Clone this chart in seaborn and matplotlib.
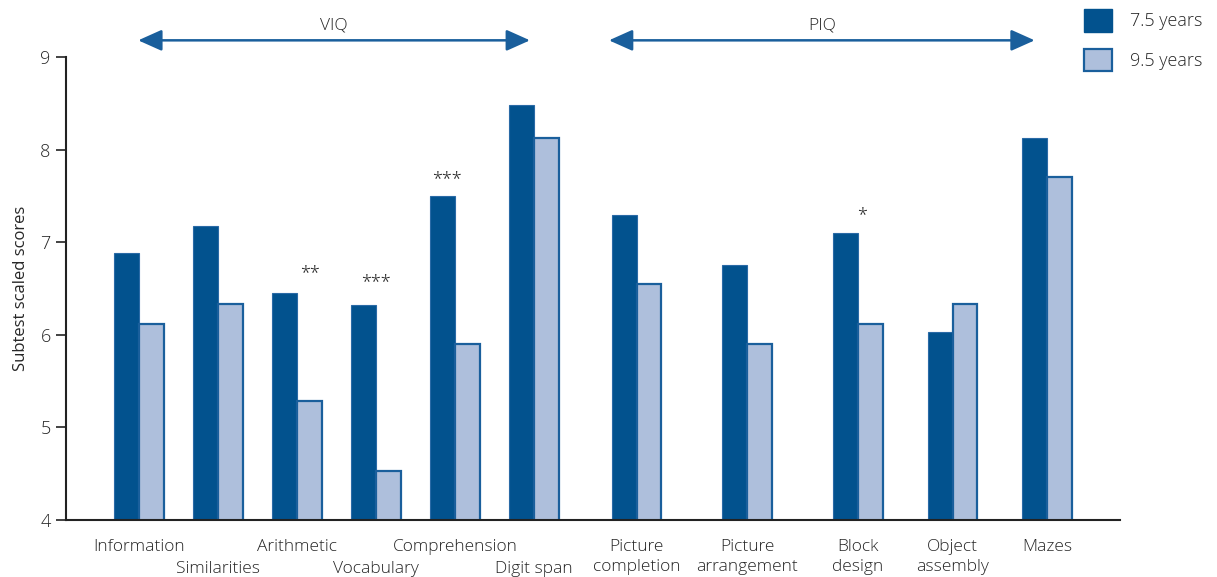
import numpy as np
import pandas as pd
import matplotlib
matplotlib.use("Agg")
import matplotlib.pyplot as plt
import matplotlib.transforms as mtransforms
from matplotlib.patches import Patch
import seaborn as sns

# Subtest names and their horizontal slots (VIQ block then PIQ block)
subtests = ["Information", "Similarities", "Arithmetic", "Vocabulary",
            "Comprehension", "Digit span", "Picture completion",
            "Picture arrangement", "Block design", "Object assembly", "Mazes"]
tick_labels = ["Information", "Similarities", "Arithmetic", "Vocabulary",
               "Comprehension", "Digit span", "Picture\ncompletion",
               "Picture\narrangement", "Block\ndesign", "Object\nassembly", "Mazes"]
# labels pushed down to a second row so neighbours don't collide
lower_row = ["Similarities", "Vocabulary", "Digit span"]
slots = [0, 1, 2, 3, 4, 5, 6.3, 7.7, 9.1, 10.3, 11.5]

scores_75 = [6.88, 7.18, 6.45, 6.32, 7.50, 8.48, 7.29, 6.75, 7.10, 6.03, 8.13]
scores_95 = [6.12, 6.33, 5.28, 4.53, 5.90, 8.13, 6.55, 5.90, 6.12, 6.33, 7.70]
ages = ["7.5 years", "9.5 years"]

# Significance markers: (subtest, text, x offset, height)
stars = [("Arithmetic", "**", 0.16, 6.57),
         ("Vocabulary", "***", 0.0, 6.47),
         ("Comprehension", "***", -0.1, 7.59),
         ("Block design", "*", 0.05, 7.20)]

DARK = "#02528e"
LIGHT = "#aebfdc"
EDGE = "#1a5f9c"
TEXT = "#262626"

df = pd.DataFrame({
    "slot": slots * 2,
    "score": scores_75 + scores_95,
    "age": [ages[0]] * len(slots) + [ages[1]] * len(slots),
})

sns.set_theme(style="white")
plt.rcParams["font.family"] = ["Open Sans", "DejaVu Sans"]
plt.rcParams["font.weight"] = "light"

fig = plt.figure(figsize=(12.17, 5.77), dpi=100)
ax = fig.add_axes([66 / 1217, 1 - 520 / 577, (1120 - 66) / 1217, (520 - 57) / 577])

sns.barplot(data=df, x="slot", y="score", hue="age", native_scale=True,
            palette=[DARK, LIGHT], width=0.63, gap=0, errorbar=None,
            legend=False, ax=ax, saturation=1)

n = len(slots)
for i, p in enumerate(ax.patches[:2 * n]):
    if i < n:
        p.set_edgecolor("#2a6aa6")
        p.set_linewidth(0.8)
    else:
        p.set_edgecolor(EDGE)
        p.set_linewidth(1.6)

ax.set_ylim(4, 9)
ax.set_xlim(-0.924, 12.42)
ax.set_yticks([4, 5, 6, 7, 8, 9])
ax.set_xticks(slots)
ax.set_xticklabels(tick_labels, fontsize=12.5, color=TEXT, linespacing=1.3)
ax.tick_params(axis="x", length=0, pad=14)
ax.tick_params(axis="y", length=7, width=1.2, color="#222222", left=True,
               labelsize=13, labelcolor=TEXT, pad=4)
drop = mtransforms.ScaledTranslation(0, -21.5 / 100, fig.dpi_scale_trans)
for lab in ax.get_xticklabels():
    if lab.get_text() in lower_row:
        lab.set_transform(lab.get_transform() + drop)
ax.set_xlabel("")
ax.set_ylabel("Subtest scaled scores", fontsize=12, color=TEXT, labelpad=8)
for side in ["top", "right"]:
    ax.spines[side].set_visible(False)
for side in ["left", "bottom"]:
    ax.spines[side].set_color("#222222")
    ax.spines[side].set_linewidth(1.5)

# Significance stars
for name, txt, dx, h in stars:
    x = slots[subtests.index(name)] + dx
    ax.text(x, h, txt, ha="center", va="bottom", fontsize=13, color=TEXT)

# Scale groupings
arrow_kw = dict(arrowstyle="<|-|>,head_length=0.85,head_width=0.38",
                color=EDGE, lw=1.8, shrinkA=0, shrinkB=0, mutation_scale=17)
for x0, x1, label in [(-0.01, 4.95, "VIQ"), (5.95, 11.34, "PIQ")]:
    ax.annotate("", xy=(x1, 9.18), xytext=(x0, 9.18), xycoords="data",
                arrowprops=arrow_kw, annotation_clip=False)
    ax.text((x0 + x1) / 2, 9.25, label, ha="center", va="bottom",
            fontsize=12.5, color=TEXT, clip_on=False)

# Legend
handles = [Patch(facecolor=DARK, edgecolor=DARK),
           Patch(facecolor=LIGHT, edgecolor=EDGE, linewidth=1.6)]
fig.legend(handles, ages, loc="upper left", bbox_to_anchor=(1075 / 1217, 1.0),
           frameon=False, fontsize=13, handlelength=1.55, handleheight=1.55,
           labelspacing=0.95, handletextpad=1.0, labelcolor=TEXT,
           borderaxespad=0.1)

fig.savefig("out.png", dpi=100)
